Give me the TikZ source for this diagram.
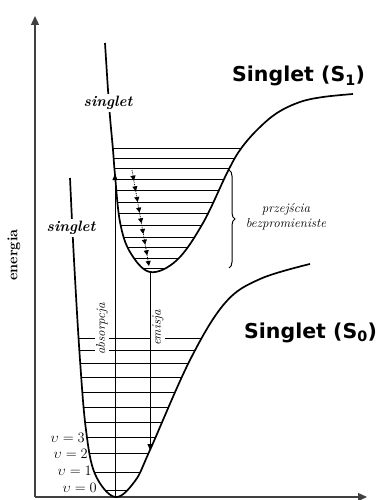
\documentclass[tikz,border=0pt]{standalone}
\usepackage{fontspec}
\usepackage{tikz}
\usetikzlibrary{arrows.meta,calc,decorations.pathreplacing}
\newfontfamily\headfont{DejaVu Sans}
\newcommand{\groundcurve}{plot[smooth,tension=0.6] coordinates {(70,178) (74,260) (80,360) (86,430) (95,474) (115,497) (135,481) (150,450) (190,360) (225,303) (260,279) (310,264)}}
\newcommand{\excitedcurve}{plot[smooth,tension=0.6] coordinates {(105,43) (108,90) (110,117) (113,150) (115,175) (120,222) (130,252) (150,272) (177,260) (203,223) (227,173) (240,150) (257,130) (277,113) (300,102) (323,97) (353,94)}}

\begin{document}
\begin{tikzpicture}[
  x=1pt,y=-1pt,
  curve/.style={line width=1.7pt},
  lvl/.style={line width=0.8pt},
  axis/.style={line width=1.3pt,draw=black!75,-{Triangle[length=9pt,width=8pt]}},
  arrow/.style={line width=0.8pt,-{Triangle[length=6pt,width=5pt]}},
  cascade/.style={line width=0.8pt,densely dotted,-{Triangle[length=5pt,width=5pt]}},
  state/.style={font=\headfont\bfseries\fontsize{20.5}{24}\selectfont,anchor=base west,inner sep=0pt},
  tag/.style={font=\bfseries\itshape\fontsize{15}{17}\selectfont,fill=white,inner sep=2pt},
  note/.style={font=\itshape\fontsize{13}{15}\selectfont,inner sep=1pt},
  vib/.style={font=\fontsize{14.5}{14.5}\selectfont,anchor=east,inner sep=0pt}
]
\useasboundingbox (0,0) rectangle (379,500);

% axes
\coordinate (origin) at (35,497);
\coordinate (etop) at (35,16);
\coordinate (eright) at (367,497);
\draw[axis] (origin) -- (etop);
\draw[axis] (origin) -- (eright);
\node[font=\bfseries\fontsize{14.5}{14.5}\selectfont,rotate=90] (energy) at (14,255) {energia};

% vibrational levels
\begin{scope}
  \clip \groundcurve -- cycle;
  \foreach \y in {338,350,363,377,392,407,422,437,453,472,490}
    \draw[lvl] (60,\y) -- (230,\y);
\end{scope}
\begin{scope}
  \clip \excitedcurve -- cycle;
  \foreach \y in {148,158,168,179,190,202,213,225,237,247,258,268}
    \draw[lvl] (100,\y) -- (260,\y);
\end{scope}

% potential curves
\draw[curve] \groundcurve;
\draw[curve] \excitedcurve;
\node[tag] (s1tag) at (108,103) {singlet};
\node[tag] (s0tag) at (71,228) {singlet};
\node[state] (s1name) at (232,82) {Singlet (S\textsubscript{1})};
\node[state] (s0name) at (244,338) {Singlet (S\textsubscript{0})};

% v labels
\node[vib] (v3) at (85,438) {$\upsilon = 3$};
\node[vib] (v2) at (88,454) {$\upsilon = 2$};
\node[vib] (v1) at (92,471) {$\upsilon = 1$};
\node[vib] (v0) at (97,488) {$\upsilon = 0$};

% transitions
\coordinate (s0min) at (115,497);
\coordinate (s1left) at (115,174);
\coordinate (s1min) at (150,272);
\coordinate (s0right) at (150,450);
\node[note,rotate=90,fill=white] (absorb) at (102,329) {absorpcja};
\node[note,rotate=90,fill=white] (emit) at (158,328) {emisja};
\draw[arrow] (s0min) -- (s1left);
\draw[arrow] (s1min) -- (s0right);

\coordinate (ctop) at (132,170);
\coordinate (cbot) at (149,266);
\foreach \i in {0,...,8}
  \draw[cascade] ($(ctop)!{\i/9}!(cbot)$) -- ($(ctop)!{(\i+1)/9}!(cbot)$);

\coordinate (bracetop) at (229,170);
\coordinate (bracebot) at (229,268);
\draw[line width=1pt,decorate,decoration={brace,amplitude=6pt}] (bracetop) -- (bracebot);
\node[note,align=center] (nonrad) at (286,217) {przejścia\\bezpromieniste};
\end{tikzpicture}
\end{document}
